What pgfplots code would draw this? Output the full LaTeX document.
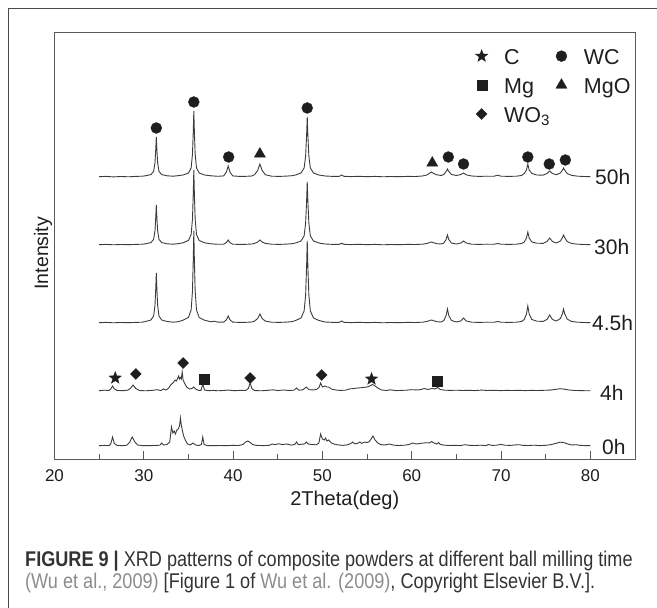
\documentclass[border=0pt]{standalone}
\usepackage{pgfplots}
\pgfplotsset{compat=1.18}
\usepackage{fontspec}
\setmainfont{Liberation Sans}
\newfontfamily\capfont[FakeStretch=0.85]{Liberation Sans}
\definecolor{ink}{HTML}{1E1E1E}
\definecolor{linec}{HTML}{3C3C3C}
\definecolor{axisc}{HTML}{5A5A5A}
\definecolor{capc}{HTML}{333333}
\definecolor{linkc}{HTML}{8C8C8C}
\definecolor{framec}{HTML}{4A4A4A}
\pgfdeclareplotmark{fstar}{%
  \pgfpathmoveto{\pgfpointpolar{90}{\pgfplotmarksize}}%
  \pgfpathlineto{\pgfpointpolar{126}{0.42\pgfplotmarksize}}%
  \pgfpathlineto{\pgfpointpolar{162}{\pgfplotmarksize}}%
  \pgfpathlineto{\pgfpointpolar{198}{0.42\pgfplotmarksize}}%
  \pgfpathlineto{\pgfpointpolar{234}{\pgfplotmarksize}}%
  \pgfpathlineto{\pgfpointpolar{270}{0.42\pgfplotmarksize}}%
  \pgfpathlineto{\pgfpointpolar{306}{\pgfplotmarksize}}%
  \pgfpathlineto{\pgfpointpolar{342}{0.42\pgfplotmarksize}}%
  \pgfpathlineto{\pgfpointpolar{18}{\pgfplotmarksize}}%
  \pgfpathlineto{\pgfpointpolar{54}{0.42\pgfplotmarksize}}%
  \pgfpathclose
  \pgfusepathqfillstroke
}
\begin{document}
\begin{tikzpicture}
\path[use as bounding box] (0pt,0pt) rectangle (657pt,608pt);
\draw[framec, line width=1pt] (8.3pt,0pt) -- (8.3pt,599.7pt) -- (657pt,599.7pt);
\begin{axis}[
  at={(54.5pt,149pt)}, anchor=south west,
  scale only axis, width=580.5pt, height=427pt,
  xmin=20, xmax=85, ymin=0, ymax=427,
  clip=false,
  xtick={20,30,...,80}, minor xtick={25,35,...,75},
  ytick=\empty,
  tick align=inside, xtick pos=left,
  major tick length=8pt, minor tick length=5pt,
  axis line style={axisc, line width=0.9pt},
  every tick/.style={axisc, line width=0.8pt},
  /pgf/number format/assume math mode=true,
  xticklabel style={font=\fontsize{17}{17}\selectfont, text=ink, yshift=-7pt},
  xlabel={2Theta(deg)}, ylabel={Intensity},
  xlabel style={font=\fontsize{20}{20}\selectfont, text=ink, at={(axis description cs:0.5,-0.096)}, anchor=center},
  ylabel style={font=\fontsize{19.5}{19.5}\selectfont, text=ink, at={(axis description cs:-0.0198,0.482)}, anchor=center},
  legend columns=2,
  legend cell align=left,
  legend image code/.code={\path (-7pt,0pt) (7pt,15pt); \draw[#1] plot coordinates {(0pt,3.5pt)};},
  legend style={draw=none, fill=none, inner sep=0pt, at={(0.7227,0.9719)}, anchor=north west,
    font=\fontsize{21.5}{21.5}\selectfont, text=ink,
    nodes={text height=15pt, text depth=5pt, inner sep=3pt},
    row sep=0.5pt,
    /tikz/every odd column/.append style={column sep=12pt},
    /tikz/every even column/.append style={column sep=1pt}},
  every axis plot/.append style={line width=0.9pt, linec},
]
% 50h
\addplot[linec, forget plot] coordinates {
(25,282.3) (25.8,282.6) (26.6,282.1) (27.4,282.5) (28.3,282.2) (29.1,282.6) (29.8,282.8)
(30.2,283.2) (30.8,284.4) (31.1,287.6) (31.25,296) (31.34,310) (31.4,322) (31.46,310) (31.55,296) (31.7,287.6) (32.0,284.4) (32.6,283.2)
(33.3,282.8) (33.9,283.4)
(34.4,284) (35.0,286) (35.3,291) (35.45,305) (35.54,328) (35.6,348) (35.66,328) (35.75,305) (35.9,291) (36.2,286) (36.8,284)
(37.5,283.2) (38.3,282.7)
(38.95,283.1) (39.25,287) (39.45,293) (39.65,287) (39.95,283.1)
(40.7,282.6) (41.5,282.7) (42.1,283)
(42.4,284.3) (42.75,288.5) (43.0,295) (43.25,288.5) (43.6,284.3)
(44.3,282.8) (45.2,282.6) (46.0,282.9) (46.6,283.3)
(47.0,284) (47.6,286) (47.95,291) (48.12,303) (48.23,324) (48.3,342) (48.37,324) (48.48,303) (48.65,291) (49.0,286) (49.6,284)
(50.3,283) (51.2,282.6) (51.9,282.7) (52.15,284) (52.4,282.7) (53.2,282.4) (54.1,282.7) (55.0,282.3) (55.9,282.6) (56.8,282.2) (57.7,282.5) (58.6,282.3) (59.5,282.6) (60.4,282.5) (61.2,283) (61.7,284)
(61.95,285.5) (62.2,287) (62.45,285.5) (62.8,284.2)
(63.3,283.5)
(63.6,284.5) (63.85,287.5) (64.0,290) (64.15,287.5) (64.45,284.5)
(65.0,283.5) (65.5,284.5) (65.8,286) (66.1,284.2)
(66.7,283) (67.5,282.6) (68.4,282.8) (69.2,282.7) (69.6,283.8) (70.0,282.8) (70.9,282.6) (71.7,282.8) (72.3,283.5)
(72.6,285.5) (72.85,289) (73.0,295) (73.15,289) (73.45,285.5)
(74.0,284) (74.7,283.8)
(75.15,285.5) (75.45,288) (75.75,285.5)
(76.2,284.3)
(76.65,286) (76.88,289) (77.0,291) (77.12,289) (77.4,285.5)
(77.9,283.6) (78.6,282.8) (79.3,282.5) (80,282.3)
};
% 30h
\addplot[linec, forget plot] coordinates {
(25,214.3) (25.8,214.6) (26.6,214.2) (27.4,214.5) (28.3,214.3) (29.1,214.6) (29.8,214.8)
(30.2,215.2) (30.8,216.4) (31.1,219.6) (31.25,228) (31.34,242) (31.4,254) (31.46,242) (31.55,228) (31.7,219.6) (32.0,216.4) (32.6,215.2)
(33.3,214.8) (33.9,215.4)
(34.4,216.2) (35.0,218.5) (35.3,224.5) (35.45,240) (35.54,266) (35.6,289) (35.66,266) (35.75,240) (35.9,224.5) (36.2,218.5) (36.8,216.2)
(37.5,215.2) (38.3,214.7)
(38.95,214.8) (39.25,216.5) (39.45,219) (39.65,216.5) (39.95,214.8)
(40.7,214.6) (41.5,214.7) (42.1,215)
(42.4,215.6) (42.75,217) (43.0,219) (43.25,217) (43.6,215.6)
(44.3,214.8) (45.2,214.6) (46.0,214.9) (46.6,215.3)
(47.0,216) (47.6,218) (47.95,223) (48.12,236) (48.23,258) (48.3,277) (48.37,258) (48.48,236) (48.65,223) (49.0,218) (49.6,216)
(50.3,215) (51.2,214.6) (51.9,214.7) (52.15,215.8) (52.4,214.7) (53.2,214.4) (54.1,214.7) (55.0,214.3) (55.9,214.6) (56.8,214.2) (57.7,214.5) (58.6,214.3) (59.5,214.6) (60.4,214.5) (61.2,214.8) (61.7,215.5)
(61.95,216.3) (62.2,217) (62.45,216.3) (62.8,215.3)
(63.3,215)
(63.6,216) (63.85,219.5) (64.0,224) (64.15,219.5) (64.45,216)
(65.0,215) (65.5,216) (65.8,218) (66.1,216)
(66.7,214.8) (67.5,214.6) (68.4,214.8) (69.2,214.7) (69.6,215.5) (70.0,214.8) (70.9,214.6) (71.7,214.8) (72.3,215.5)
(72.6,217) (72.85,221) (73.0,227) (73.15,221) (73.45,217)
(74.0,215.8) (74.7,215.6)
(75.15,217.5) (75.45,221) (75.75,217.5)
(76.2,216)
(76.65,218) (76.88,221.5) (77.0,224) (77.12,221.5) (77.4,217.5)
(77.9,215.5) (78.6,214.8) (79.3,214.5) (80,214.3)
};
% 4.5h
\addplot[linec, forget plot] coordinates {
(25,136.3) (25.8,136.6) (26.6,136.2) (27.4,136.5) (28.3,136.3) (29.1,136.6) (29.8,136.8)
(30.2,137.5) (30.8,139) (31.1,143) (31.25,153.5) (31.34,171) (31.4,186) (31.46,171) (31.55,153.5) (31.7,143) (32.0,139) (32.6,137.5)
(33.3,136.8) (33.9,137.4)
(34.4,138.8) (35.0,141.5) (35.3,149) (35.45,168) (35.54,200) (35.6,228) (35.66,200) (35.75,168) (35.9,149) (36.2,141.5) (36.8,138.8)
(37.5,137.2) (37.9,137.8) (38.3,136.8)
(38.95,136.9) (39.25,139.2) (39.45,143) (39.65,139.2) (39.95,136.9)
(40.7,136.6) (41.5,136.7) (42.1,137)
(42.4,137.9) (42.75,140.5) (43.0,145) (43.25,140.5) (43.6,137.9)
(44.3,136.8) (45.2,136.6) (46.0,136.9) (46.6,137.4)
(47.0,138.5) (47.6,141) (47.95,148) (48.12,164) (48.23,193) (48.3,218) (48.37,193) (48.48,164) (48.65,148) (49.0,141) (49.6,138.5)
(50.3,137) (51.2,136.6) (51.9,136.7) (52.15,138) (52.4,136.7) (53.2,136.4) (54.1,136.7) (55.0,136.3) (55.9,136.6) (56.8,136.2) (57.7,136.5) (58.6,136.3) (59.5,136.6) (60.4,136.5) (61.2,136.8) (61.7,137.5)
(61.95,138.3) (62.2,139) (62.45,138.3) (62.8,137.3)
(63.3,137)
(63.6,138.5) (63.85,143.5) (64.0,150) (64.15,143.5) (64.45,138.5)
(65.0,137) (65.5,138) (65.8,141) (66.1,138)
(66.7,136.8) (67.5,136.6) (68.4,136.8) (69.2,136.7) (69.6,137.5) (70.0,136.8) (70.9,136.6) (71.7,136.8) (72.3,137.5)
(72.6,139.5) (72.85,145) (73.0,153) (73.15,145) (73.45,139.5)
(74.0,137.8) (74.7,137.6)
(75.15,139.5) (75.45,144) (75.75,139.5)
(76.2,138)
(76.65,140.5) (76.88,145.5) (77.0,150) (77.12,145.5) (77.4,140)
(77.9,137.5) (78.6,136.8) (79.3,136.5) (80,136.3)
};
% 4h
\addplot[linec, forget plot] coordinates {
(25,68.3) (25.6,68.8) (26.1,68.5) (26.3,70) (26.5,73) (26.7,70) (27.0,68.6) (27.6,68.3) (28.2,68.8) (28.5,70.5) (28.8,74) (29.1,70.5) (29.5,68.5) (30.2,68.2) (30.9,68.6) (31.5,69.3) (31.9,68.4) (32.2,70) (32.5,69) (32.8,71) (33.0,74) (33.2,75.5) (33.35,77) (33.5,79) (33.65,78) (33.8,81) (33.9,83) (34.0,80) (34.1,81.5) (34.2,80) (34.3,87) (34.4,79) (34.55,76) (34.8,72) (35.1,70) (35.4,70.5) (35.6,72) (35.8,70) (36.1,68.7) (36.4,68.5) (36.6,75) (36.8,69) (37.2,68.3) (37.8,68.6) (38.3,68.2) (38.9,68.5) (39.5,68.9) (40.1,68.3) (40.8,68.6) (41.4,68.5) (41.7,70.5) (41.9,76) (42.1,70.5) (42.4,68.5) (43.1,68.2) (43.8,68.6) (44.5,69.2) (45.0,68.4) (45.6,69) (46.3,68.5) (46.8,68.8) (47.1,71) (47.35,68.8) (47.8,69.2) (48.2,72) (48.5,69.3) (49.0,69) (49.4,69.8) (49.65,72) (49.8,76) (50.0,72) (50.3,73) (50.5,72) (50.7,72) (51.0,70) (51.5,69) (52.0,68.6) (52.6,68.8) (53.0,70) (53.5,70.5) (54.0,71) (54.5,71.5) (55.0,72) (55.3,73) (55.6,74.5) (55.9,73) (56.2,71) (56.6,69) (57.2,68.5) (57.6,69.2) (58.2,68.4) (58.8,68.6) (59.4,68.8) (60.0,69.3) (60.6,69) (61.1,69.6) (61.4,70.5) (61.8,69.5) (62.3,70.5) (62.6,70) (62.9,71.5) (63.2,69.5) (63.7,68.8) (64.3,68.6) (65.0,68.8) (65.7,68.5) (66.4,68.7) (67.1,68.4) (67.8,68.9) (68.5,68.5) (69.2,68.7) (69.9,68.4) (70.6,68.6) (71.3,68.5) (72.0,68.7) (72.7,68.4) (73.4,68.6) (74.1,68.5) (74.8,68.7) (75.5,68.9) (76.1,69.6) (76.6,70.3) (77.1,69.8) (77.6,69) (78.3,68.5) (79.0,68.4) (79.6,68.2) (80,68.3)
};
% 0h
\addplot[linec, forget plot] coordinates {
(25,13.3) (25.6,13.6) (26.1,13.4) (26.3,15) (26.5,22) (26.7,15.5) (27.0,13.6) (27.6,13.3) (28.1,13.8) (28.4,16.5) (28.7,22) (29.0,17) (29.3,14) (29.8,13.4) (30.5,13.3) (31.2,13.5) (31.8,13.8) (32.0,16) (32.2,14) (32.6,14.5) (32.9,17) (33.1,32) (33.25,26) (33.4,28) (33.55,25) (33.7,29) (33.85,30) (34.0,33) (34.1,41) (34.2,34) (34.35,27) (34.5,22) (34.7,18) (34.9,15) (35.2,14) (35.5,16) (35.8,14) (36.2,13.5) (36.45,14.5) (36.6,22) (36.75,14.5) (37.1,13.4) (37.8,13.3) (38.5,13.5) (39.2,13.3) (39.9,13.6) (40.6,13.5) (41.1,14.5) (41.4,17) (41.65,18) (41.9,16.5) (42.2,14.5) (42.6,13.6) (43.3,13.4) (44.0,13.6) (44.4,15) (44.7,14.3) (45.1,15.3) (45.5,14.4) (46.0,15) (46.5,13.9) (46.9,14.5) (47.1,17) (47.3,14.3) (47.7,14.8) (48.0,15) (48.2,17) (48.4,15) (48.8,14.5) (49.3,14.2) (49.6,16) (49.8,25) (50.0,20) (50.2,19) (50.35,21) (50.5,18) (50.7,19) (51.0,16) (51.3,15) (51.8,14) (52.3,13.6) (52.8,14.2) (53.2,15.5) (53.4,17) (53.6,15.2) (53.9,15.5) (54.2,17) (54.4,15.5) (54.7,17) (55.0,16.5) (55.2,17) (55.45,20) (55.65,23) (55.9,19) (56.2,16) (56.5,14.5) (57.0,14) (57.5,15) (58.0,13.8) (58.6,13.5) (59.2,13.8) (59.7,14.5) (60.1,16) (60.5,15) (60.9,15.5) (61.3,16) (61.7,16.3) (62.0,16) (62.2,17.5) (62.5,16) (62.8,15) (63.0,16.5) (63.2,14.5) (63.7,13.8) (64.2,13.5) (64.8,13.7) (65.4,13.4) (66.0,14.3) (66.5,13.6) (67.1,13.5) (67.7,13.8) (68.3,13.4) (68.6,14.5) (69.0,13.6) (69.5,13.8) (70.0,14.6) (70.4,13.8) (71.0,13.6) (71.5,14) (72.0,14.3) (72.5,13.6) (73.1,13.5) (73.7,13.8) (74.3,13.4) (74.9,13.6) (75.5,14.2) (76.1,15.5) (76.6,16.8) (77.0,16.5) (77.4,15.2) (77.9,14) (78.4,14.3) (78.9,13.6) (79.5,13.4) (80,13.3)
};
% phase markers
\addplot[only marks, mark=fstar, mark size=6.5pt, mark options={fill=ink, draw=ink, line width=0.3pt}] coordinates {(26.8,81) (55.5,80)};
\addlegendentry{C}
\addplot[only marks, mark=*, mark size=5.5pt, mark options={fill=ink, draw=ink, line width=0.3pt}] coordinates {(31.4,331) (35.6,357) (39.5,302) (48.3,351) (64.1,302) (65.8,295) (73.0,302) (75.4,295) (77.2,299)};
\addlegendentry{WC}
\addplot[only marks, mark=square*, mark size=5pt, mark options={fill=ink, draw=ink, line width=0.3pt}] coordinates {(36.8,80) (62.9,78)};
\addlegendentry{Mg}
\addplot[only marks, mark=triangle*, mark size=6.5pt, mark options={fill=ink, draw=ink, line width=0.3pt}] coordinates {(43.0,305) (62.3,296)};
\addlegendentry{MgO}
\addplot[only marks, mark=square*, mark size=3.9pt, mark options={rotate=45, fill=ink, draw=ink, line width=0.3pt}] coordinates {(29.1,85) (34.4,96) (41.9,81) (49.9,84)};
\addlegendentry{WO\textsubscript{3}}
% series labels
\node[anchor=west, inner sep=0pt, font=\fontsize{21}{21}\selectfont, text=ink] at (axis cs:80.52,282) {50h};
\node[anchor=west, inner sep=0pt, font=\fontsize{21}{21}\selectfont, text=ink] at (axis cs:80.41,212) {30h};
\node[anchor=west, inner sep=0pt, font=\fontsize{21}{21}\selectfont, text=ink] at (axis cs:80.18,136) {4.5h};
\node[anchor=west, inner sep=0pt, font=\fontsize{21}{21}\selectfont, text=ink] at (axis cs:81.08,66) {4h};
\node[anchor=west, inner sep=0pt, font=\fontsize{21}{21}\selectfont, text=ink] at (axis cs:81.3,12) {0h};
\end{axis}
\node[anchor=base west, inner sep=0pt, font=\capfont\fontsize{21.3}{21.3}\selectfont, text=capc] at (25pt,41pt) {\textbf{FIGURE 9 |} XRD patterns of composite powders at different ball milling time};
\node[anchor=base west, inner sep=0pt, font=\capfont\fontsize{21.3}{21.3}\selectfont, text=capc] at (25pt,19pt) {\textcolor{linkc}{(Wu et al., 2009)} [Figure 1 of \textcolor{linkc}{Wu et al. (2009)}, Copyright Elsevier B.V.].};
\end{tikzpicture}
\end{document}
